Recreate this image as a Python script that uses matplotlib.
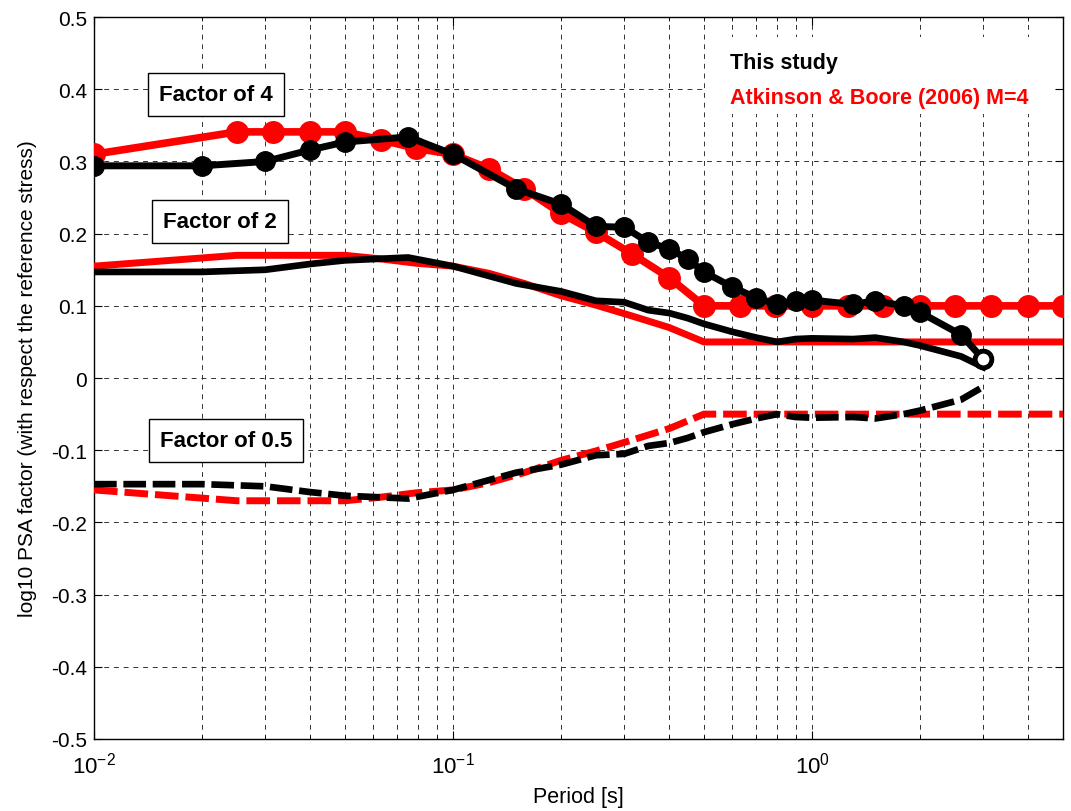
import math
import matplotlib
matplotlib.use("Agg")
import matplotlib.pyplot as plt
from matplotlib.patches import Rectangle
from matplotlib.ticker import LogLocator, FixedLocator, FuncFormatter

# ------------------------------
# Data
# ------------------------------

# Atkinson & Boore (2006) M=4 periods
ab_period = [0.01, 0.025, 0.0315, 0.04, 0.05, 0.063, 0.079, 0.1, 0.126, 0.158,
             0.2, 0.25, 0.315, 0.4, 0.5, 0.63, 0.79, 1.0, 1.26, 1.58,
             2.0, 2.5, 3.15, 4.0, 5.0]
ab_f4 = [0.31, 0.341, 0.341, 0.341, 0.341, 0.33, 0.318, 0.31, 0.29, 0.262,
         0.228, 0.202, 0.172, 0.139, 0.10, 0.10, 0.10, 0.10, 0.10, 0.10,
         0.10, 0.10, 0.10, 0.10, 0.10]
ab_f2 = [0.155, 0.17, 0.17, 0.17, 0.17, 0.165, 0.159, 0.155, 0.145, 0.131,
         0.114, 0.101, 0.086, 0.07, 0.05, 0.05, 0.05, 0.05, 0.05, 0.05,
         0.05, 0.05, 0.05, 0.05, 0.05]
ab_f05 = [-0.155, -0.17, -0.17, -0.17, -0.17, -0.165, -0.159, -0.155, -0.145, -0.131,
          -0.114, -0.101, -0.086, -0.07, -0.05, -0.05, -0.05, -0.05, -0.05, -0.05,
          -0.05, -0.05, -0.05, -0.05, -0.05]

# This study periods
ts_period = [0.01, 0.02, 0.03, 0.04, 0.05, 0.075, 0.1, 0.15, 0.2, 0.25,
             0.3, 0.35, 0.4, 0.45, 0.5, 0.6, 0.7, 0.8, 0.9, 1.0,
             1.3, 1.5, 1.8, 2.0, 2.6, 3.0]
ts_f4 = [0.294, 0.294, 0.30, 0.316, 0.327, 0.334, 0.31, 0.262, 0.241, 0.21,
         0.209, 0.188, 0.179, 0.165, 0.147, 0.126, 0.111, 0.102, 0.107, 0.108,
         0.102, 0.107, 0.10, 0.091, 0.06, 0.026]
ts_f2 = [0.147, 0.147, 0.15, 0.158, 0.163, 0.167, 0.155, 0.131, 0.12, 0.107,
         0.105, 0.094, 0.09, 0.083, 0.075, 0.064, 0.056, 0.05, 0.054, 0.055,
         0.054, 0.056, 0.05, 0.045, 0.03, 0.015]
ts_f05 = [-0.147, -0.147, -0.15, -0.158, -0.163, -0.167, -0.155, -0.131, -0.12, -0.107,
          -0.105, -0.094, -0.09, -0.083, -0.075, -0.064, -0.056, -0.05, -0.054, -0.055,
          -0.054, -0.056, -0.05, -0.045, -0.03, -0.012]

y_ticks = [-0.5, -0.4, -0.3, -0.2, -0.1, 0, 0.1, 0.2, 0.3, 0.4, 0.5]
y_tick_labels = ["-0.5", "-0.4", "-0.3", "-0.2", "-0.1", "0", "0.1", "0.2", "0.3", "0.4", "0.5"]

# ------------------------------
# Figure
# ------------------------------

plt.rcParams["font.family"] = ["Liberation Sans", "DejaVu Sans"]
plt.rcParams["mathtext.fontset"] = "custom"
plt.rcParams["mathtext.rm"] = "Liberation Sans"
plt.rcParams["mathtext.it"] = "Liberation Sans"

fig = plt.figure(figsize=(10.71, 8.12), dpi=100)
ax = fig.add_axes([0.0878, 0.0887, 0.9047, 0.889])

dash = (0, (3.4, 1.0))

# Atkinson & Boore (red)
ax.plot(ab_period, ab_f4, color="red", lw=5.5, marker="o", ms=15.5, zorder=3)
ax.plot(ab_period, ab_f2, color="red", lw=5.0, zorder=3)
ax.plot(ab_period, ab_f05, color="red", lw=5.0, linestyle=dash, zorder=3)

# This study (black)
ax.plot(ts_period, ts_f4, color="black", lw=5.0, marker="o", ms=14, zorder=4)
ax.plot(ts_period[-1:], ts_f4[-1:], color="black", lw=0, marker="o", ms=12,
        mfc="white", mec="black", mew=3.5, zorder=5)
ax.plot(ts_period, ts_f2, color="black", lw=4.8, zorder=4)
ax.plot(ts_period, ts_f05, color="black", lw=4.8, linestyle=dash, zorder=4)

ax.set_xscale("log")
ax.set_xlim(0.01, 5)
ax.set_ylim(-0.5, 0.5)

ax.xaxis.set_major_locator(LogLocator(base=10, numticks=10))
ax.xaxis.set_minor_locator(LogLocator(base=10, subs=range(2, 10), numticks=20))
ax.xaxis.set_major_formatter(
    FuncFormatter(lambda v, p: r"$10^{%d}$" % round(math.log10(v))))
ax.yaxis.set_major_locator(FixedLocator(y_ticks))
ax.set_yticklabels(y_tick_labels)

grid_style = dict(color="#333333", linestyle=(0, (5, 5)), linewidth=0.7)
ax.grid(True, which="major", axis="both", **grid_style)
ax.grid(True, which="minor", axis="x", **grid_style)
ax.set_axisbelow(True)

ax.tick_params(which="both", direction="in", top=True, right=True)
ax.tick_params(which="major", length=6)
ax.tick_params(which="minor", length=3)
ax.tick_params(axis="y", labelsize=15, pad=5)
ax.tick_params(axis="x", labelsize=16, pad=9)
for s in ax.spines.values():
    s.set_linewidth(1.0)

ax.set_xlabel("Period [s]", fontsize=15.5, labelpad=6)
ax.set_ylabel("log10 PSA factor (with respect the reference stress)", fontsize=15, labelpad=10)

# Factor boxes
box = dict(boxstyle="square,pad=0.5", fc="white", ec="black", lw=1.0)
ax.text(0.0219, 0.393, "Factor of 4", fontsize=16, fontweight="bold",
        ha="center", va="center", bbox=box, zorder=6)
ax.text(0.0224, 0.217, "Factor of 2", fontsize=16, fontweight="bold",
        ha="center", va="center", bbox=box, zorder=6)
ax.text(0.0233, -0.087, "Factor of 0.5", fontsize=16, fontweight="bold",
        ha="center", va="center", bbox=box, zorder=6)

# Legend area (white box without border) and texts
ax.add_patch(Rectangle((0.632, 0.866), 0.36, 0.106, transform=ax.transAxes,
                       fc="white", ec="none", zorder=1))
ax.text(0.59, 0.437, "This study", fontsize=15.5, fontweight="bold",
        color="black", ha="left", va="center", zorder=6)
ax.text(0.59, 0.389, "Atkinson & Boore (2006) M=4", fontsize=15.5, fontweight="bold",
        color="red", ha="left", va="center", zorder=6)

fig.savefig("out.png", dpi=100)
